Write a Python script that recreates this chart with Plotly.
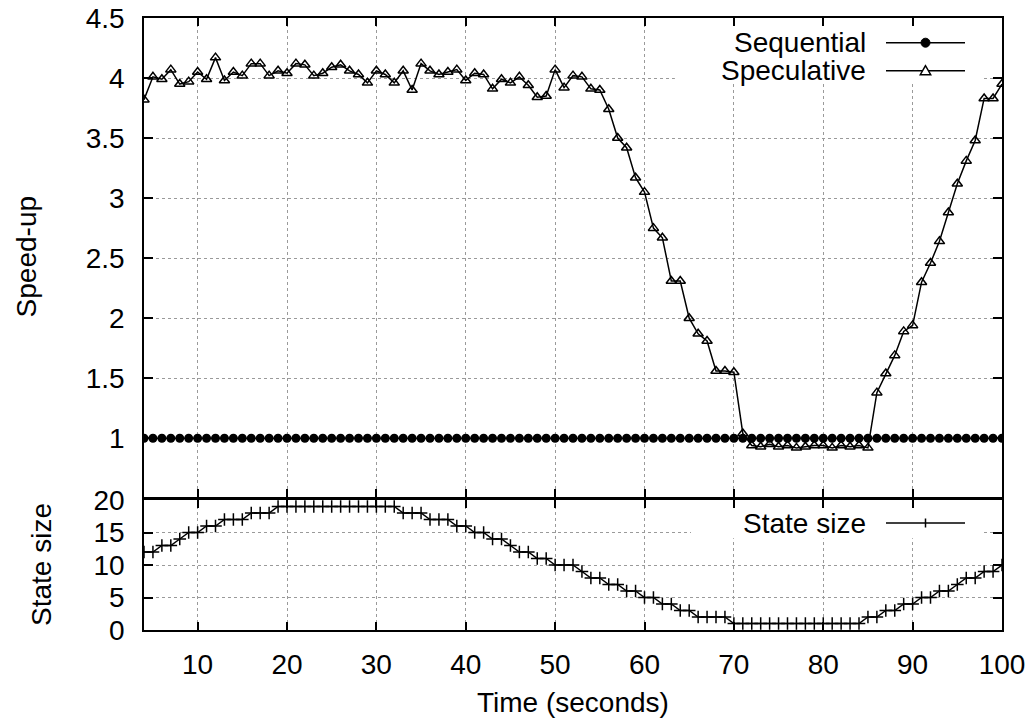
import plotly.graph_objects as go

# ---------------- data ----------------
time_s = list(range(4, 101))  # seconds 4..100

sequential = [1.0, 1.0, 1.0, 1.0, 1.0, 1.0, 1.0, 1.0, 1.0, 1.0,
              1.0, 1.0, 1.0, 1.0, 1.0, 1.0, 1.0, 1.0, 1.0, 1.0,
              1.0, 1.0, 1.0, 1.0, 1.0, 1.0, 1.0, 1.0, 1.0, 1.0,
              1.0, 1.0, 1.0, 1.0, 1.0, 1.0, 1.0, 1.0, 1.0, 1.0,
              1.0, 1.0, 1.0, 1.0, 1.0, 1.0, 1.0, 1.0, 1.0, 1.0,
              1.0, 1.0, 1.0, 1.0, 1.0, 1.0, 1.0, 1.0, 1.0, 1.0,
              1.0, 1.0, 1.0, 1.0, 1.0, 1.0, 1.0, 1.0, 1.0, 1.0,
              1.0, 1.0, 1.0, 1.0, 1.0, 1.0, 1.0, 1.0, 1.0, 1.0,
              1.0, 1.0, 1.0, 1.0, 1.0, 1.0, 1.0, 1.0, 1.0, 1.0,
              1.0, 1.0, 1.0, 1.0, 1.0, 1.0, 1.0]

speculative = [3.82, 4.01, 3.99, 4.07, 3.95, 3.97, 4.05, 3.99, 4.17, 3.98,   # 4-13
               4.05, 4.02, 4.12, 4.12, 4.02, 4.06, 4.04, 4.12, 4.11, 4.02,   # 14-23
               4.04, 4.09, 4.11, 4.06, 4.03, 3.96, 4.06, 4.03, 3.96, 4.06,   # 24-33
               3.90, 4.12, 4.06, 4.03, 4.05, 4.07, 3.98, 4.04, 4.03, 3.91,   # 34-43
               3.99, 3.96, 4.01, 3.94, 3.84, 3.85, 4.07, 3.92, 4.02, 4.01,   # 44-53
               3.91, 3.90, 3.74, 3.50, 3.42, 3.17, 3.05, 2.75, 2.67, 2.31,   # 54-63
               2.31, 2.00, 1.87, 1.81, 1.56, 1.56, 1.55, 1.04, 0.94, 0.93,   # 64-73
               0.95, 0.93, 0.94, 0.92, 0.93, 0.94, 0.94, 0.92, 0.94, 0.93,   # 74-83
               0.94, 0.92, 1.38, 1.54, 1.69, 1.89, 1.94, 2.30, 2.46, 2.64,   # 84-93
               2.88, 3.12, 3.31, 3.48, 3.83, 3.83, 3.95]                     # 94-100

state_size = [12, 12, 13, 13, 14, 15, 15, 16, 16, 17, 17, 17, 18, 18, 18,   # 4-18
              19, 19, 19, 19, 19, 19, 19, 19, 19, 19, 19, 19, 19, 19,       # 19-32
              18, 18, 18, 17, 17, 17, 16, 16, 15, 15, 14, 14, 13, 12, 12,   # 33-47
              11, 11, 10, 10, 10, 9, 8, 8, 7, 7, 6, 6, 5, 5, 4, 4, 3, 3,     # 48-65
              2, 2, 2, 2,                                                   # 66-69
              1, 1, 1, 1, 1, 1, 1, 1, 1, 1, 1, 1, 1, 1, 1,                  # 70-84
              2, 2, 3, 3, 4, 4, 5, 5, 6, 6, 7, 8, 8, 9, 9, 10]              # 85-100

x_ticks = [10, 20, 30, 40, 50, 60, 70, 80, 90, 100]
speed_ticks = [1, 1.5, 2, 2.5, 3, 3.5, 4, 4.5]
speed_tick_labels = ["1", "1.5", "2", "2.5", "3", "3.5", "4", "4.5"]
state_ticks = [0, 5, 10, 15, 20]

# ---------------- geometry helpers (pixels -> paper) ----------------
W, H = 1034, 719
L, R, T, B = 144, 32, 18, 89
PW, PH = W - L - R, H - T - B


def px(x):
    return (x - L) / PW


def py(y):
    return (H - B - y) / PH


FONT = "Liberation Sans, Arial, Helvetica, sans-serif"
FS = 28
BLACK = "#000000"
GRID = "#9a9a9a"

fig = go.Figure()

fig.add_trace(go.Scatter(
    x=time_s, y=sequential, mode="lines+markers", name="Sequential",
    line=dict(color=BLACK, width=1.5),
    marker=dict(symbol="circle", size=9, color=BLACK),
    xaxis="x2", yaxis="y2", showlegend=False))

fig.add_trace(go.Scatter(
    x=time_s, y=speculative, mode="lines+markers", name="Speculative",
    line=dict(color=BLACK, width=1.5),
    marker=dict(symbol="triangle-up-open", size=9, color=BLACK,
                line=dict(color=BLACK, width=1.5)),
    xaxis="x2", yaxis="y2", showlegend=False))

fig.add_trace(go.Scatter(
    x=time_s, y=state_size, mode="lines+markers", name="State size",
    line=dict(color=BLACK, width=1.5),
    marker=dict(symbol="cross-thin-open", size=9, color=BLACK,
                line=dict(color=BLACK, width=1.5)),
    xaxis="x", yaxis="y", showlegend=False))

axis_common = dict(
    showline=True, linecolor=BLACK, linewidth=1.5, mirror="ticks",
    ticks="inside", tickwidth=1.5, tickcolor=BLACK,
    showgrid=True, gridcolor=GRID, griddash="dot", gridwidth=1,
    zeroline=False, automargin=False,
    tickfont=dict(family=FONT, size=FS, color=BLACK),
)

top_bottom = py(496.5)

fig.update_layout(
    width=W, height=H,
    margin=dict(l=L, r=R, t=T, b=B, pad=0),
    paper_bgcolor="white", plot_bgcolor="white",
    font=dict(family=FONT, size=FS, color=BLACK),
    showlegend=False,
    xaxis=dict(axis_common, domain=[0, 1], anchor="y", range=[4, 100],
               tickvals=x_ticks, ticklen=8, ticklabelstandoff=9),
    yaxis=dict(axis_common, domain=[0, py(500)], anchor="x", range=[0, 20],
               tickvals=state_ticks, ticklen=9, ticklabelstandoff=12),
    xaxis2=dict(axis_common, domain=[0, 1], anchor="y2", range=[4, 100],
                tickvals=x_ticks, ticklen=8, showticklabels=False,
                matches="x"),
    yaxis2=dict(axis_common, domain=[top_bottom, 1], anchor="x2",
                range=[0.515, 4.5], tickvals=speed_ticks,
                ticktext=speed_tick_labels, ticklen=9, ticklabelstandoff=12),
)

shapes = []
# white patches hiding the grid behind the keys (gnuplot style)
shapes.append(dict(type="rect", xref="x2", yref="y2", x0=63.4, x1=97.9,
                   y0=3.95, y1=4.5, fillcolor="white", line=dict(width=0),
                   layer="between"))
shapes.append(dict(type="rect", xref="x", yref="y", x0=65.2, x1=97.9,
                   y0=14.1, y1=20, fillcolor="white", line=dict(width=0),
                   layer="between"))

# key samples
key_x0, key_x1, key_xm = 886, 965, 925.5
key_rows = [42.7, 70.7, 523.0]
for ky in key_rows:
    shapes.append(dict(type="line", xref="paper", yref="paper",
                       x0=px(key_x0), x1=px(key_x1), y0=py(ky), y1=py(ky),
                       line=dict(color=BLACK, width=1.5)))
# circle (Sequential)
shapes.append(dict(type="circle", xref="paper", yref="paper",
                   x0=px(key_xm - 4.5), x1=px(key_xm + 4.5),
                   y0=py(key_rows[0] + 4.5), y1=py(key_rows[0] - 4.5),
                   fillcolor=BLACK, line=dict(color=BLACK, width=1)))
# triangle (Speculative)
ty = key_rows[1]
tri = "M {:.5f},{:.5f} L {:.5f},{:.5f} L {:.5f},{:.5f} Z".format(
    px(key_xm), py(ty - 5), px(key_xm - 5.2), py(ty + 4), px(key_xm + 5.2), py(ty + 4))
shapes.append(dict(type="path", xref="paper", yref="paper", path=tri,
                   fillcolor="white", line=dict(color=BLACK, width=1.5)))
# plus (State size)
sy = key_rows[2]
shapes.append(dict(type="line", xref="paper", yref="paper",
                   x0=px(key_xm), x1=px(key_xm), y0=py(sy - 4.5), y1=py(sy + 4.5),
                   line=dict(color=BLACK, width=1.5)))
fig.update_layout(shapes=shapes)

annotations = []
key_labels = ["Sequential", "Speculative", "State size"]
for lab, ky in zip(key_labels, key_rows):
    annotations.append(dict(text=lab, xref="paper", yref="paper",
                            x=px(868), y=py(ky), xanchor="right",
                            yanchor="middle", showarrow=False,
                            font=dict(family=FONT, size=FS, color=BLACK)))
annotations.append(dict(text="Time (seconds)", xref="paper", yref="paper",
                        x=0.5, y=py(702.5), xanchor="center", yanchor="middle",
                        showarrow=False,
                        font=dict(family=FONT, size=FS, color=BLACK)))
annotations.append(dict(text="Speed-up", xref="paper", yref="paper",
                        x=px(26), y=py(257.4), xanchor="center",
                        yanchor="middle", textangle=-90, showarrow=False,
                        font=dict(family=FONT, size=FS, color=BLACK)))
annotations.append(dict(text="State size", xref="paper", yref="paper",
                        x=px(41), y=py(565), xanchor="center",
                        yanchor="middle", textangle=-90, showarrow=False,
                        font=dict(family=FONT, size=FS, color=BLACK)))
fig.update_layout(annotations=annotations)

fig.write_html("out.html")
